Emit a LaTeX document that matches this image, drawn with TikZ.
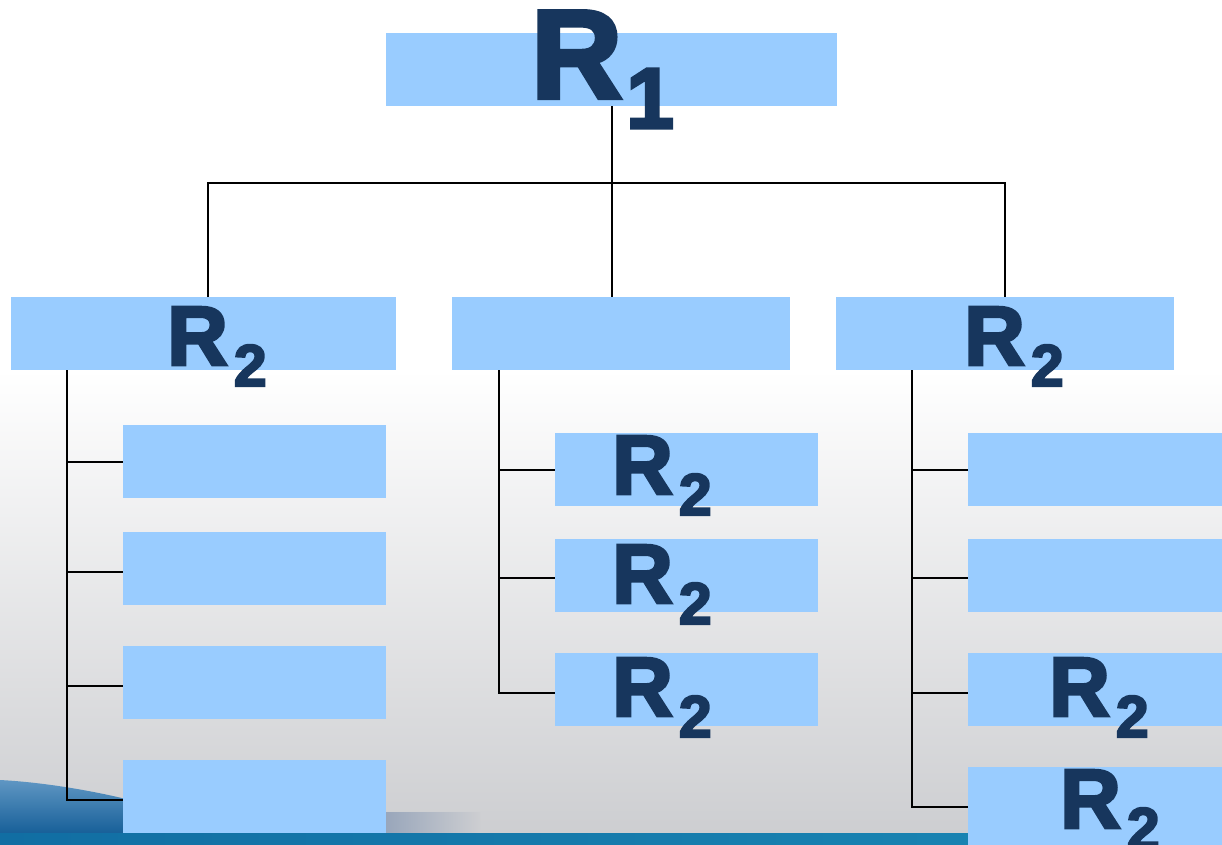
\documentclass[tikz,border=0pt]{standalone}
\usepackage{fontspec}
\setmainfont{Liberation Sans}
\newfontfamily\heavyfont[FakeBold=3.5]{Liberation Sans Bold}
\definecolor{boxblue}{RGB}{153,204,255}
\definecolor{navy}{RGB}{23,54,93}
\definecolor{bggray}{RGB}{205,206,209}
\definecolor{stripL}{RGB}{17,110,163}
\definecolor{stripR}{RGB}{26,136,181}
\definecolor{waveD}{RGB}{22,95,152}
\definecolor{waveL}{RGB}{95,150,195}
\definecolor{waveG}{RGB}{125,145,175}
\newcommand\bigR[2]{R\kern#1\raisebox{-30pt}{\fontsize{86}{86}\selectfont #2}}
\newcommand\midR[2]{R\kern#1\raisebox{-21pt}{\fontsize{59}{59}\selectfont #2}}
\begin{document}
\begin{tikzpicture}[x=1pt,y=-1pt,
  box/.style={fill=boxblue,draw=none,inner sep=0pt,anchor=north west,minimum height=73pt},
  wide/.style={box,minimum width=#1},
  lbl/.style={anchor=base west,inner sep=0pt,text=navy},
  conn/.style={draw=black,line width=1.6pt}]
\useasboundingbox (0,0) rectangle (1222,844);
% background
\fill[white] (0,0) rectangle (1222,370);
\shade[top color=white,bottom color=bggray] (0,370) rectangle (1222,834);
\shade[top color=waveL,bottom color=waveD] (0,780) .. controls (40,782) and (90,790) .. (130,800) -- (130,834) -- (0,834) -- cycle;
\shade[left color=waveG,right color=bggray] (336,812) -- (480,812) -- (480,834) -- (336,834) -- cycle;
\shade[left color=stripL,right color=stripR] (0,833) rectangle (1222,844);
% boxes
\node[wide=451pt] (r1) at (386,33) {};
\node[wide=385pt] (a) at (11,297) {};
\node[wide=338pt] (b) at (452,297) {};
\node[wide=338pt] (c) at (836,297) {};
\node[wide=263pt] (a1) at (123,425) {};
\node[wide=263pt] (a2) at (123,532) {};
\node[wide=263pt] (a3) at (123,646) {};
\node[wide=263pt] (a4) at (123,760) {};
\node[wide=263pt] (b1) at (555,433) {};
\node[wide=263pt] (b2) at (555,539) {};
\node[wide=263pt] (b3) at (555,653) {};
\node[wide=263pt] (c1) at (968,433) {};
\node[wide=263pt] (c2) at (968,539) {};
\node[wide=263pt] (c3) at (968,653) {};
\node[wide=263pt,minimum height=80pt] (c4) at (968,767) {};
% connectors
\coordinate (bus) at (611,183);
\coordinate (la) at (67,370);
\coordinate (lb) at (499,370);
\coordinate (lc) at (912,370);
\draw[conn] (r1.south) -- (r1.south |- b.north);
\draw[conn] (208,297) |- (bus) -| (c.north);
\draw[conn] (la) |- ([yshift=-3.5pt]a4.west);
\draw[conn] ([yshift=-0.5pt]a1.west -| la) -- ([yshift=-0.5pt]a1.west);
\draw[conn] ([yshift=-3.5pt]a2.west -| la) -- ([yshift=-3.5pt]a2.west);
\draw[conn] ([yshift=-3.5pt]a3.west -| la) -- ([yshift=-3.5pt]a3.west);
\draw[conn] (lb) |- ([yshift=-3.5pt]b3.west);
\draw[conn] (b1.west -| lb) -- (b1.west);
\draw[conn] ([yshift=-2.5pt]b2.west -| lb) -- ([yshift=-2.5pt]b2.west);
\draw[conn] (lc) |- (c4.west);
\draw[conn] (c1.west -| lc) -- (c1.west);
\draw[conn] ([yshift=-2.5pt]c2.west -| lc) -- ([yshift=-2.5pt]c2.west);
\draw[conn] ([yshift=-3.5pt]c3.west -| lc) -- ([yshift=-3.5pt]c3.west);
% labels
\node[lbl,font=\heavyfont\fontsize{126}{126}\selectfont] (t1) at (531,98) {\bigR{4pt}{1}};
\node[lbl,font=\heavyfont\fontsize{84}{84}\selectfont] (ta) at (167,365) {\midR{6pt}{2}};
\node[lbl,font=\heavyfont\fontsize{84}{84}\selectfont] (tc) at (964,365) {\midR{6pt}{2}};
\node[lbl,font=\heavyfont\fontsize{84}{84}\selectfont] (tb1) at (612,494) {\midR{6pt}{2}};
\node[lbl,font=\heavyfont\fontsize{84}{84}\selectfont] (tb2) at (612,603) {\midR{6pt}{2}};
\node[lbl,font=\heavyfont\fontsize{84}{84}\selectfont] (tb3) at (612,716) {\midR{6pt}{2}};
\node[lbl,font=\heavyfont\fontsize{84}{84}\selectfont] (tc3) at (1049,716) {\midR{6pt}{2}};
\node[lbl,font=\heavyfont\fontsize{84}{84}\selectfont] (tc4) at (1060,828) {\midR{6pt}{2}};
\end{tikzpicture}
\end{document}
